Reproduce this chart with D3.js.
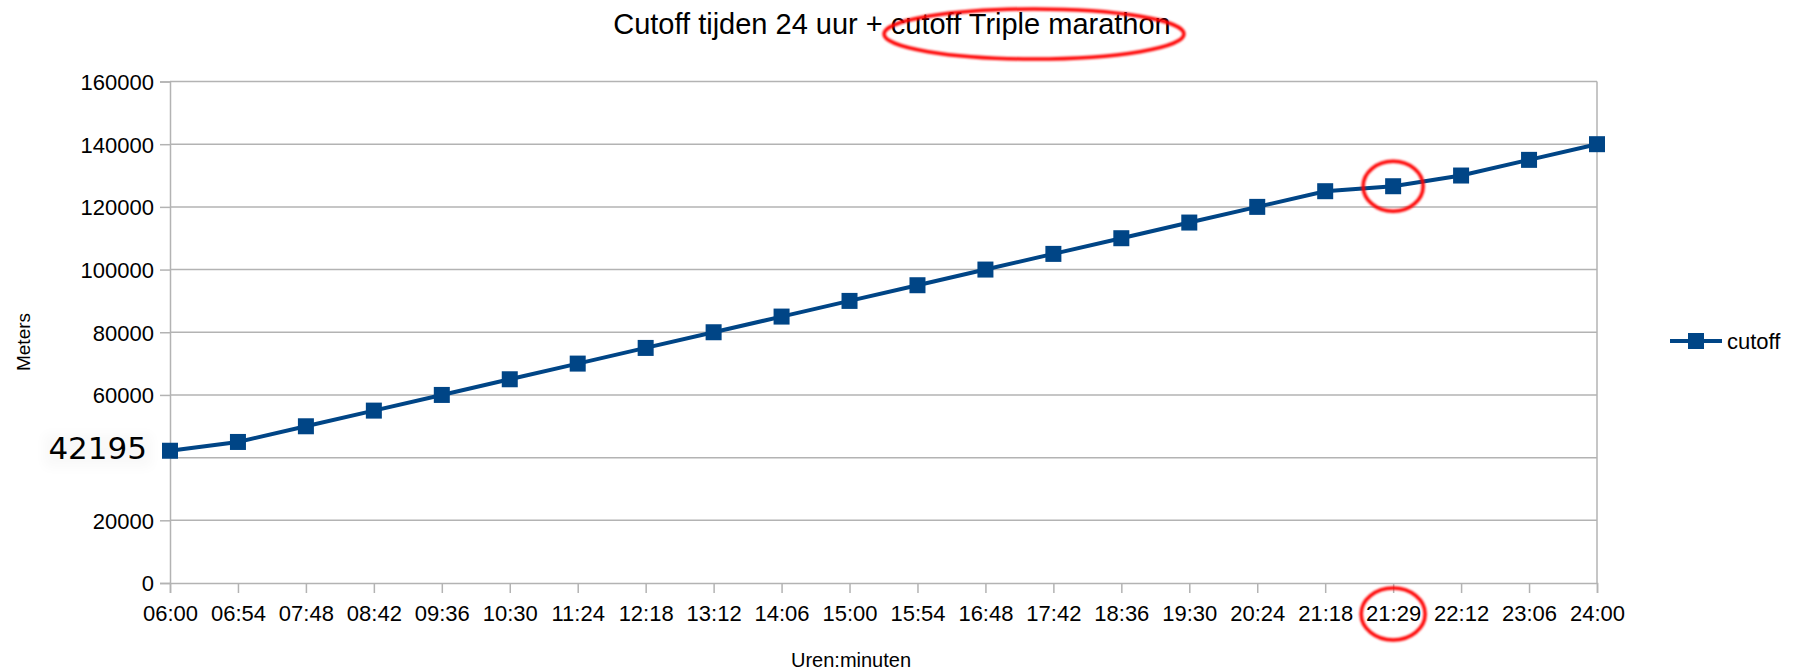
<!DOCTYPE html>
<html>
<head>
<meta charset="utf-8">
<script src="https://cdn.jsdelivr.net/npm/d3@7"></script>
<style>
  body { margin: 0; background: #fff; }
  svg { display: block; font-family: "Liberation Sans", Arial, sans-serif; }
  .grid line { stroke: #b3b3b3; stroke-width: 1.5; }
  .axis path, .axis line { stroke: #b3b3b3; stroke-width: 1.5; }
  .axis text { fill: #000; font-size: 22px; }
</style>
</head>
<body>
<div id="chart"></div>
<script>
// data
var times = ["06:00", "06:54", "07:48", "08:42", "09:36", "10:30", "11:24", "12:18", "13:12", "14:06",
             "15:00", "15:54", "16:48", "17:42", "18:36", "19:30", "20:24", "21:18", "21:29", "22:12",
             "23:06", "24:00"];
var meters = [42195, 45000, 50000, 55000, 60000, 65000, 70000, 75000, 80000, 85000,
              90000, 95000, 100000, 105000, 110000, 115000, 120000, 125000, 126585, 130000,
              135000, 140000];
var yTicks = [0, 20000, 40000, 60000, 80000, 100000, 120000, 140000, 160000];
var seriesName = "cutoff";
var highlight = "21:29";

var width = 1800, height = 670;
var margin = {left: 170, right: 203, top: 81.5, bottom: 87};
var blue = "#004586";

var svg = d3.select("#chart").append("svg")
    .attr("width", width)
    .attr("height", height);

var defs = svg.append("defs");
defs.append("filter").attr("id", "soft")
  .append("feGaussianBlur").attr("stdDeviation", 0.9);
defs.append("filter").attr("id", "glow").attr("x", "-30%").attr("y", "-60%").attr("width", "160%").attr("height", "220%")
  .append("feGaussianBlur").attr("stdDeviation", 6);

var x = d3.scalePoint().domain(times).range([margin.left, width - margin.right]);
var y = d3.scaleLinear().domain([0, 160000]).range([height - margin.bottom, margin.top]);

// grid
svg.append("g").attr("class", "grid")
  .selectAll("line").data(yTicks.filter(function(d) { return d > 0; }))
  .enter().append("line")
    .attr("x1", x.range()[0]).attr("x2", x.range()[1])
    .attr("y1", function(d) { return y(d); }).attr("y2", function(d) { return y(d); });
svg.append("line")
  .attr("x1", x.range()[1]).attr("x2", x.range()[1])
  .attr("y1", y(0)).attr("y2", y(160000))
  .attr("stroke", "#b3b3b3").attr("stroke-width", 1.5);

// axes
var yAxis = svg.append("g").attr("class", "axis")
  .attr("transform", "translate(" + margin.left + ",0)")
  .call(d3.axisLeft(y).tickValues(yTicks).tickSize(10).tickPadding(6).tickFormat(d3.format("d")));
yAxis.selectAll("text").attr("dy", "0.36em");
// the 40000 label is pasted over by the 42195 label in the reference
yAxis.selectAll(".tick").filter(function(d) { return d === 40000; }).remove();

svg.append("g").attr("class", "axis")
  .attr("transform", "translate(0," + y(0) + ")")
  .call(d3.axisBottom(x).tickSize(10).tickPadding(12))
  .call(function(g) { g.select(".domain").attr("stroke-width", 2); });

// series
var line = d3.line()
  .x(function(d, i) { return x(times[i]); })
  .y(function(d) { return y(d); });

svg.append("path")
  .datum(meters)
  .attr("fill", "none")
  .attr("stroke", blue)
  .attr("stroke-width", 4)
  .attr("d", line);

// pasted label for the marathon distance
var ly = y(meters[0]) - 3;
svg.append("rect")
  .attr("x", 44).attr("y", ly - 14).attr("width", 108).attr("height", 34)
  .attr("fill", "#000").attr("opacity", 0.025).attr("filter", "url(#glow)");
svg.append("text")
  .attr("x", 147).attr("y", ly + 11)
  .attr("text-anchor", "end")
  .attr("font-family", "DejaVu Sans")
  .attr("font-size", 31)
  .text(meters[0]);

svg.selectAll(".pt").data(meters).enter().append("rect")
  .attr("class", "pt")
  .attr("x", function(d, i) { return x(times[i]) - 8; })
  .attr("y", function(d) { return y(d) - 8; })
  .attr("width", 16).attr("height", 16)
  .attr("fill", blue);

// titles
svg.append("text")
  .attr("x", 892).attr("y", 34)
  .attr("text-anchor", "middle")
  .attr("font-size", 29)
  .text("Cutoff tijden 24 uur + cutoff Triple marathon");

svg.append("text")
  .attr("x", 851).attr("y", 667)
  .attr("text-anchor", "middle")
  .attr("font-size", 20)
  .text("Uren:minuten");

svg.append("text")
  .attr("transform", "translate(30,342) rotate(-90)")
  .attr("text-anchor", "middle")
  .attr("font-size", 19)
  .text("Meters");

// legend
var legend = svg.append("g").attr("transform", "translate(1670,341)");
legend.append("line").attr("x1", 0).attr("x2", 52).attr("stroke", blue).attr("stroke-width", 4);
legend.append("rect").attr("x", 18).attr("y", -8).attr("width", 16).attr("height", 16).attr("fill", blue);
legend.append("text").attr("x", 57).attr("y", 8).attr("font-size", 22).text(seriesName);

// red highlight marks
var hi = times.indexOf(highlight);
var marks = svg.append("g")
  .attr("fill", "none").attr("stroke", "#ff0000").attr("stroke-width", 3.5)
  .attr("filter", "url(#soft)");
marks.append("ellipse").attr("cx", 1034).attr("cy", 34).attr("rx", 150).attr("ry", 25);
marks.append("ellipse").attr("cx", x(highlight)).attr("cy", y(meters[hi])).attr("rx", 30).attr("ry", 25);
marks.append("ellipse").attr("cx", x(highlight)).attr("cy", 614).attr("rx", 32).attr("ry", 26);
</script>
</body>
</html>
